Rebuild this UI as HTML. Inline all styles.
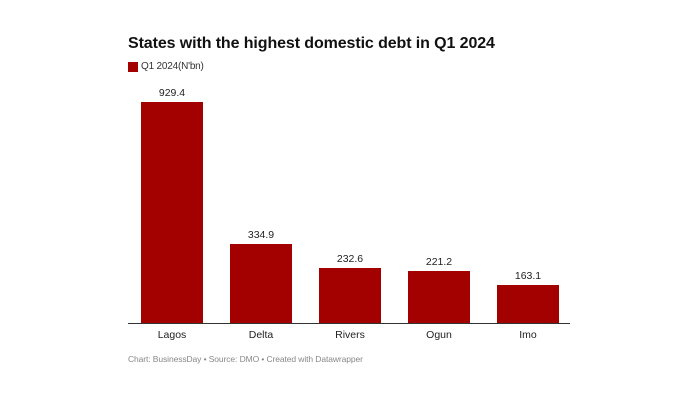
<!DOCTYPE html>
<html><head><style>
body{margin:0;width:700px;height:400px;background:#fff;position:relative;font-family:"Liberation Sans",sans-serif;overflow:hidden}
.a{position:absolute}
.bar{position:absolute;background:#a30000;width:62px}
.v{position:absolute;width:62px;text-align:center;font-size:10.5px;color:#222}
.l{position:absolute;width:62px;text-align:center;font-size:10.5px;color:#222;top:329px}
</style></head><body>
<div class="a" style="left:128px;top:35px;font-size:16px;font-weight:bold;color:#111;letter-spacing:-0.1px">States with the highest domestic debt in Q1 2024</div>
<div class="a" style="left:128px;top:62px;width:10px;height:10px;background:#a30000"></div>
<div class="a" style="left:141px;top:61px;font-size:10px;color:#333;letter-spacing:-0.2px">Q1 2024(N'bn)</div>

<div class="bar" style="left:141px;top:102px;height:222px"></div>
<div class="v" style="left:141px;top:87px">929.4</div>
<div class="l" style="left:141px">Lagos</div>

<div class="bar" style="left:230px;top:244px;height:80px"></div>
<div class="v" style="left:230px;top:229px">334.9</div>
<div class="l" style="left:230px">Delta</div>

<div class="bar" style="left:319px;top:268px;height:56px"></div>
<div class="v" style="left:319px;top:253px">232.6</div>
<div class="l" style="left:319px">Rivers</div>

<div class="bar" style="left:408px;top:271px;height:53px"></div>
<div class="v" style="left:408px;top:256px">221.2</div>
<div class="l" style="left:408px">Ogun</div>

<div class="bar" style="left:497px;top:285px;height:39px"></div>
<div class="v" style="left:497px;top:270px">163.1</div>
<div class="l" style="left:497px">Imo</div>

<div class="a" style="left:128px;top:323px;width:442px;height:1px;background:#333"></div>
<div class="a" style="left:128px;top:354px;font-size:8.5px;color:#888;letter-spacing:-0.1px">Chart: BusinessDay • Source: DMO • Created with Datawrapper</div>
</body></html>
